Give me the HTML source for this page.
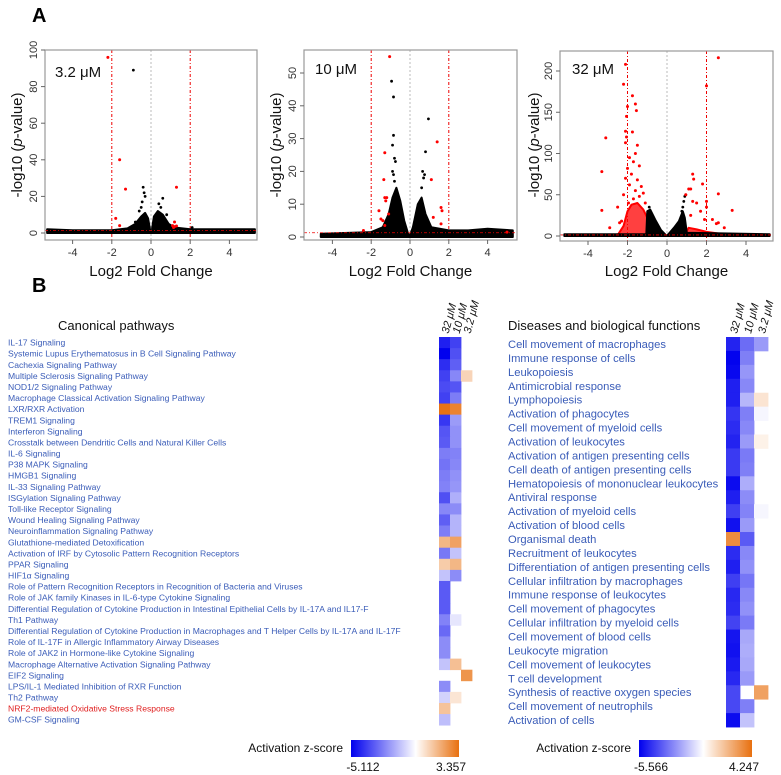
<!DOCTYPE html>
<html><head><meta charset="utf-8"><style>
body{margin:0;background:#fff}
svg{display:block;font-family:"Liberation Sans",Arial,sans-serif}
</style></head><body>
<svg id="fig" width="781" height="775" viewBox="0 0 781 775" xmlns="http://www.w3.org/2000/svg">
<defs>
<linearGradient id="gL" x1="0" x2="1" y1="0" y2="0"><stop offset="0" stop-color="#0000ee"/><stop offset="0.6" stop-color="#ffffff"/><stop offset="1" stop-color="#e8700f"/></linearGradient>
<linearGradient id="gR" x1="0" x2="1" y1="0" y2="0"><stop offset="0" stop-color="#0000ee"/><stop offset="0.57" stop-color="#ffffff"/><stop offset="1" stop-color="#e8700f"/></linearGradient>
</defs>
<text x="32" y="22" font-size="20" font-weight="bold">A</text>
<text x="32" y="292" font-size="20" font-weight="bold">B</text>
<g id="volc"></g>
<g id="heat"></g>
</svg>
<script>
// ---------- Volcano data ----------
const p1Red = [[-2.2,96],[-1.6,40],[-1.3,24],[-1.8,8],[-1.6,4],[1.3,25],[1.2,6],[1.1,4],[1.2,3.5],[1.3,3.8],[1.15,3]];
const p1Black = [[-0.9,89],[-0.4,25],[-0.35,22],[-0.3,20],[-0.5,14],[-0.6,12],[0.6,19],[0.4,16],[0.8,10],[-0.8,6],[2.1,3],[-0.45,17],[0.5,14]];
const p1Cloud = [[-5.3,2],[-4,1.5],[-2,1.5],[-1.2,2.5],[-0.8,5],[-0.5,9],[-0.3,11],[-0.15,8],[-0.05,2],[0,0.5],[0.05,2],[0.15,9],[0.35,12],[0.6,10],[0.9,5],[1.2,3],[2,2],[3,2],[4,2],[5.3,2]];
const p2Red = [[-1.3,25.7],[-1.35,17.5],[-1.3,12],[-1.25,11],[-1.2,12],[-1.6,8],[-1.5,5.5],[-1.4,5],[-1.3,3.5],[-1.1,7],[-1.05,55],[1.4,29],[1.1,17.5],[1.6,9],[1.65,8],[1.2,6],[1.6,4],[5.0,1.5],[-2.4,2]];
const p2Black = [[-0.95,47.5],[-0.85,42.7],[-0.85,31],[-0.9,28],[-0.8,24],[-0.75,23],[-0.9,20],[-0.85,19],[0.95,36],[0.8,26],[0.65,20],[0.75,19],[0.7,18],[-0.8,17],[0.6,15]];
const p2Cloud = [[-4.6,1],[-2,1.5],[-1.4,3],[-1.1,7],[-0.9,12],[-0.7,15],[-0.5,11],[-0.3,5],[-0.1,1],[0,0.5],[0.15,3],[0.4,10],[0.6,12],[0.8,7],[1.1,3],[2,2],[3,2],[4,2.5],[5.3,2]];
const p3Red = [[2.6,216],[-2.1,208],[-2.2,184],[-1.75,170],[-1.6,160],[-1.55,152],[-2,157],[-2.05,145],[-1.75,126],[-2.1,127],[-2.05,120],[-2.1,113],[-1.5,110],[-3.1,119],[-3.3,78],[-3.3,31],[2,182],[1.8,63],[1.3,75],[1.35,69],[1.1,57],[1.2,57],[0.95,50],[1.3,42],[2,42],[2,35],[2.6,51],[3.3,31],[2.3,20],[2.6,16],[2.5,15],[2.9,10],[-2.5,35],[-2.3,18],[-2.9,10],[-2.4,16],[-1.9,95],[-1.6,100],[-1.4,85],[-1.7,90],[-2.0,82],[-1.8,75],[-1.5,68],[-1.3,60],[-1.9,62],[-1.6,55],[-1.2,52],[-2.1,70],[-1.4,48],[-1.7,45],[-2.2,50],[-1.1,40],[-1.95,40],[1.5,40],[1.7,30],[1.2,25],[1.9,20]];
const p3RedCloud = [[-2.5,1],[-2.2,12],[-2,30],[-1.8,38],[-1.5,40],[-1.2,32],[-1,22],[-0.9,3]];
const p3RedCloud2 = [[0.9,2],[1.1,10],[1.5,8],[2,5],[2.6,3],[2.8,1]];
const p3Black = [[-0.9,35],[0.8,35],[0.9,48],[0.85,42],[0.95,50],[0.75,30],[-0.95,30]];
const p3Cloud = [[-5.2,2],[-1.05,2],[-1,30],[-0.85,32],[-0.6,20],[-0.3,7],[-0.05,1],[0,0.5],[0.1,3],[0.35,10],[0.6,18],[0.8,30],[0.9,22],[1,4],[5.2,2]];
const xTicks = [-4,-2,0,2,4];
const p1YTicks = [0,20,40,60,80,100];
const p2YTicks = [0,10,20,30,40,50];
const p3YTicks = [0,50,100,150,200];
const panelLabels = ["3.2 μM","10 μM","32 μM"];

// ---------- Heatmap data ----------
const leftRows = ["IL-17 Signaling","Systemic Lupus Erythematosus in B Cell Signaling Pathway","Cachexia Signaling Pathway","Multiple Sclerosis Signaling Pathway","NOD1/2 Signaling Pathway","Macrophage Classical Activation Signaling Pathway","LXR/RXR Activation","TREM1 Signaling","Interferon Signaling","Crosstalk between Dendritic Cells and Natural Killer Cells","IL-6 Signaling","P38 MAPK Signaling","HMGB1 Signaling","IL-33 Signaling Pathway","ISGylation Signaling Pathway","Toll-like Receptor Signaling","Wound Healing Signaling Pathway","Neuroinflammation Signaling Pathway","Glutathione-mediated Detoxification","Activation of IRF by Cytosolic Pattern Recognition Receptors","PPAR Signaling","HIF1α Signaling","Role of Pattern Recognition Receptors in Recognition of Bacteria and Viruses","Role of JAK family Kinases in IL-6-type Cytokine Signaling","Differential Regulation of Cytokine Production in Intestinal Epithelial Cells by IL-17A and IL17-F","Th1 Pathway","Differential Regulation of Cytokine Production in Macrophages and T Helper Cells by IL-17A and IL-17F","Role of IL-17F in Allergic Inflammatory Airway Diseases","Role of JAK2 in Hormone-like Cytokine Signaling","Macrophage Alternative Activation Signaling Pathway","EIF2 Signaling","LPS/IL-1 Mediated Inhibition of RXR Function","Th2 Pathway","NRF2-mediated Oxidative Stress Response","GM-CSF Signaling"];
const left32 = [-4.5,-5.1,-4.2,-3.8,-3.6,-3.8,3.3,-4.0,-3.4,-3.3,-2.6,-2.8,-2.6,-2.5,-3.5,-2.4,-3.2,-2.6,1.7,-2.7,1.2,-1.2,-3.3,-3.3,-3.3,-2.5,-3.0,-2.3,-2.3,-1.2,null,-2.3,-0.9,1.4,-1.3];
const left10 = [-3.8,-3.5,-3.2,-2.4,-3.4,-2.6,2.9,-2.0,-2.2,-2.2,-2.5,-2.4,-2.2,-2.1,-1.6,-2.3,-1.5,-1.5,2.2,-1.2,1.7,-2.3,null,null,null,-0.5,null,null,null,1.5,null,null,0.6,null,null];
const left3 = [null,null,null,1.0,null,null,null,null,null,null,null,null,null,null,null,null,null,null,null,null,null,null,null,null,null,null,null,null,null,null,2.5,null,null,null,null];
const rightRows = ["Cell movement of macrophages","Immune response of cells","Leukopoiesis","Antimicrobial response","Lymphopoiesis","Activation of phagocytes","Cell movement of myeloid cells","Activation of leukocytes","Activation of antigen presenting cells","Cell death of antigen presenting cells","Hematopoiesis of mononuclear leukocytes","Antiviral response","Activation of myeloid cells","Activation of blood cells","Organismal death","Recruitment of leukocytes","Differentiation of antigen presenting cells","Cellular infiltration by macrophages","Immune response of leukocytes","Cell movement of phagocytes","Cellular infiltration by myeloid cells","Cell movement of blood cells","Leukocyte migration","Cell movement of leukocytes","T cell development","Synthesis of reactive oxygen species","Cell movement of neutrophils","Activation of cells"];
const right32 = [-4.8,-5.5,-5.4,-4.9,-4.9,-4.4,-4.6,-4.8,-4.3,-4.3,-5.3,-4.9,-4.2,-5.2,3.4,-4.6,-4.9,-4.2,-4.7,-4.6,-4.1,-5.1,-5.2,-5.0,-4.7,-4.0,-4.0,-5.3];
const right10 = [-3.2,-2.8,-2.3,-2.6,-1.6,-2.8,-2.6,-2.2,-2.9,-2.8,-1.8,-2.5,-2.7,-2.2,-3.6,-2.6,-2.4,-3.0,-2.6,-2.4,-2.9,-1.9,-1.8,-1.9,-2.2,null,-2.8,-1.3];
const right3 = [-2.2,null,null,null,0.8,-0.2,null,0.4,null,null,null,null,-0.2,null,null,null,null,null,null,null,null,null,null,null,null,2.8,null,null];
const colHeads = ["32 μM","10 μM","3.2 μM"];

const NS="http://www.w3.org/2000/svg";
function mk(tag,parent,attrs){const e=document.createElementNS(NS,tag);for(const k in attrs)e.setAttribute(k,attrs[k]);parent.appendChild(e);return e;}

const volc=document.getElementById('volc');
const panels=[
 {x0:45,x1:257,y0:50,y1:240,xz:151,xs:19.6,yz:233,ys:1.83,red:p1Red,black:p1Black,cloud:p1Cloud,redClouds:[],yt:p1YTicks,lx:55,ly:77,ttlx:17},
 {x0:304,x1:517,y0:50,y1:240,xz:410,xs:19.4,yz:237,ys:3.28,red:p2Red,black:p2Black,cloud:p2Cloud,redClouds:[],yt:p2YTicks,lx:315,ly:74,ttlx:276},
 {x0:560,x1:773,y0:51,y1:241,xz:667,xs:19.75,yz:236,ys:0.825,red:p3Red,black:p3Black,cloud:p3Cloud,redClouds:[p3RedCloud,p3RedCloud2],yt:p3YTicks,lx:572,ly:74,ttlx:534}
];
panels.forEach((p,i)=>{
 const g=mk('g',volc,{});
 
 
 const X=v=>p.xz+p.xs*v, Y=v=>p.yz-p.ys*v;
 const clip='clip'+i;
 const cp=mk('clipPath',g,{id:clip}); mk('rect',cp,{x:p.x0,y:p.y0,width:p.x1-p.x0,height:p.y1-p.y0});
 const inner=mk('g',g,{'clip-path':'url(#'+clip+')'});
 const zl=mk('line',inner,{x1:X(0),x2:X(0),y1:p.y0,y2:p.y1,stroke:'#bbb','stroke-width':1,'stroke-dasharray':'2,2'});
 
 
 [-2,2].forEach(t=>{const l=mk('line',inner,{x1:X(t),x2:X(t),y1:p.y0,y2:p.y1,stroke:'#e00','stroke-width':1,'stroke-dasharray':'3,2,1,2'});
  
  });
 function area(pts,color,op){let d='M'+X(pts[0][0])+','+Y(0);pts.forEach(q=>d+=' L'+X(q[0]).toFixed(1)+','+Y(q[1]).toFixed(1));d+=' L'+X(pts[pts.length-1][0])+','+Y(0)+'Z';
  const a=mk('path',inner,{d:d,fill:color,stroke:color,'stroke-width':2,'stroke-linejoin':'round','fill-opacity':op});return a;}
 p.redClouds.forEach(rc=>{const a=area(rc,'#f00',0.75);
  
  });
 const c=area(p.cloud,'#000',1);
 
 
 p.black.forEach(q=>{const d=mk('circle',inner,{cx:X(q[0]),cy:Y(q[1]),r:1.4,fill:'#000'});
  
  });
 p.red.forEach(q=>{const d=mk('circle',inner,{cx:X(q[0]),cy:Y(q[1]),r:1.5,fill:'#f00'});
  
  });
 const hl=mk('line',inner,{x1:p.x0,x2:p.x1,y1:Y(1.3),y2:Y(1.3),stroke:'#e00','stroke-width':0.8,'stroke-dasharray':'3,2,1,2'});
 
 
 const fr=mk('rect',g,{x:p.x0,y:p.y0,width:p.x1-p.x0,height:p.y1-p.y0,fill:'none',stroke:'#999','stroke-width':1.2});
 
 
 xTicks.forEach(t=>{mk('line',g,{x1:X(t),x2:X(t),y1:p.y1,y2:p.y1+4,stroke:'#666'});
  const tx=mk('text',g,{x:X(t),y:p.y1+16,'font-size':11,fill:'#333','text-anchor':'middle'});tx.textContent=t;
  
  });
 p.yt.forEach(t=>{mk('line',g,{x1:p.x0-4,x2:p.x0,y1:Y(t),y2:Y(t),stroke:'#666'});
  const tx=mk('text',g,{x:0,y:0,'font-size':11,fill:'#333','text-anchor':'middle',transform:'translate('+(p.x0-8)+','+Y(t)+') rotate(-90)'});tx.textContent=t;
  
  });
 const xt=mk('text',g,{x:(p.x0+p.x1)/2,y:276,'font-size':15,fill:'#111','text-anchor':'middle'});xt.textContent='Log2 Fold Change';
 
 
 const yt=mk('text',g,{'font-size':15,fill:'#111','text-anchor':'middle',transform:'translate('+(p.ttlx+5)+',145) rotate(-90)'});
 yt.innerHTML='-log10 (<tspan font-style="italic">p</tspan>-value)';
 
 
 const lb=mk('text',g,{x:p.lx,y:p.ly,'font-size':15,fill:'#111'});lb.textContent=panelLabels[i];
 
 
});

// ---------- heatmaps ----------
const heat=document.getElementById('heat');
function col(v,mn,mx){
 if(v===null)return null;
 if(v<0){const t=Math.min(1,v/mn);return 'rgb('+Math.round(255-255*t)+','+Math.round(255-255*t)+','+Math.round(255-17*t)+')';}
 const t=Math.min(1,v/mx);return 'rgb('+Math.round(255-23*t)+','+Math.round(255-143*t)+','+Math.round(255-240*t)+')';
}
function heatmap(o){
 const g=mk('g',heat,{});
 
 
 const t=mk('text',g,{x:o.tx,y:330,'font-size':13,fill:'#111'});t.textContent=o.title;
 
 
 o.rows.forEach((r,i)=>{
  const yc=o.y0+o.rh*(i+0.5);
  const l=mk('text',g,{x:o.lx,y:yc+o.fs*0.36,'font-size':o.fs,fill:(r.indexOf('NRF2')===0?'#e02020':'#3a5cb8')});l.textContent=r;
  
  
  o.cols.forEach((arr,j)=>{const c=col(arr[i],o.mn,o.mx);if(!c)return;
   const rc=mk('rect',g,{x:o.cx[j],y:o.y0+o.rh*i,width:o.cw+0.4,height:o.rh+0.4,fill:c});
   
   });
 });
 colHeads.forEach((h,j)=>{const tx=mk('text',g,{'font-size':11,'font-style':'italic',fill:'#111',transform:'translate('+(o.cx[j]+o.cw/2+4)+','+(o.y0-3)+') rotate(-75)'});tx.textContent=h;
  
  });
 const cbl=mk('text',g,{x:o.bx-8,y:752,'font-size':12,fill:'#111','text-anchor':'end'});cbl.textContent='Activation  z-score';
 
 
 const cb=mk('rect',g,{x:o.bx,y:740,width:o.bw,height:17,fill:'url(#'+o.grad+')'});
 
 
 const a=mk('text',g,{x:o.bx+12,y:771,'font-size':12,fill:'#111','text-anchor':'middle'});a.textContent=o.mn.toFixed(3);
 
 
 const b=mk('text',g,{x:o.bx+o.bw-8,y:771,'font-size':12,fill:'#111','text-anchor':'middle'});b.textContent=o.mx.toFixed(3);
 
 
}
heatmap({name:'canonical-pathways-heatmap',title:'Canonical pathways',tx:58,rows:leftRows,cols:[left32,left10,left3],y0:337,rh:11.09,cx:[439,450,461],cw:11,lx:8,fs:8.6,mn:-5.112,mx:3.357,bx:351,bw:108,grad:'gL'});
heatmap({name:'diseases-functions-heatmap',title:'Diseases and biological functions',tx:508,rows:rightRows,cols:[right32,right10,right3],y0:337,rh:13.93,cx:[726,740,754],cw:14,lx:508,fs:11.2,mn:-5.566,mx:4.247,bx:639,bw:113,grad:'gR'});
</script>
</body></html>
